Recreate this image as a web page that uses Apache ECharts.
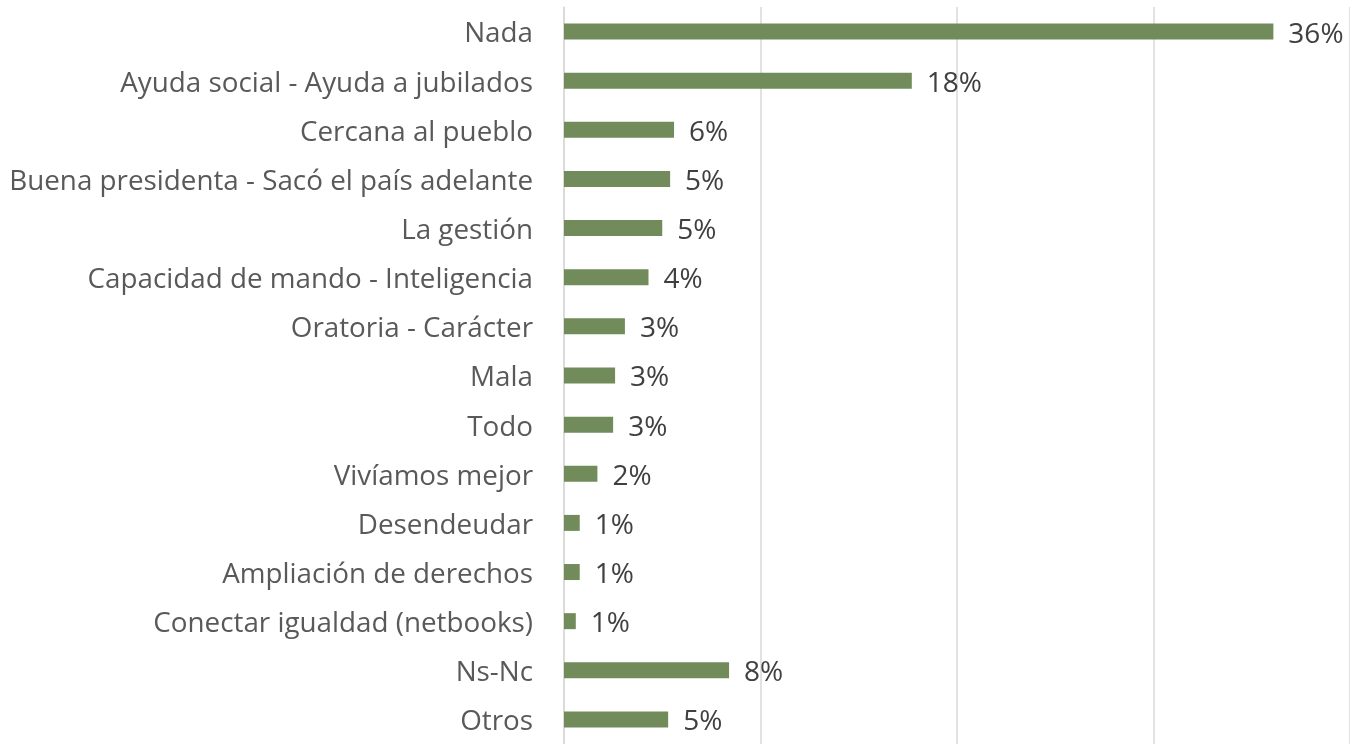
<!DOCTYPE html>
<html>
<head>
<meta charset="utf-8">
<script src="https://cdn.jsdelivr.net/npm/echarts@6/dist/echarts.min.js"></script>
<style>
html, body { margin: 0; padding: 0; background: #fff; }
#chart { width: 1350px; height: 744px; }
</style>
</head>
<body>
<div id="chart"></div>
<script>
var categories = ['Nada', 'Ayuda social - Ayuda a jubilados', 'Cercana al pueblo',
    'Buena presidenta - Sacó el país adelante', 'La gestión',
    'Capacidad de mando - Inteligencia', 'Oratoria - Carácter', 'Mala', 'Todo',
    'Vivíamos mejor', 'Desendeudar', 'Ampliación de derechos',
    'Conectar igualdad (netbooks)', 'Ns-Nc', 'Otros'];
var values = [36.1, 17.7, 5.6, 5.4, 5.0, 4.3, 3.1, 2.6, 2.5, 1.7, 0.8, 0.8, 0.6, 8.4, 5.3];
var labels = ['36%', '18%', '6%', '5%', '5%', '4%', '3%', '3%', '3%', '2%', '1%', '1%', '1%', '8%', '5%'];

var myChart = echarts.init(document.getElementById('chart'));
var option = {
    animation: false,
    grid: { left: 564, top: 7, width: 788, height: 745 },
    xAxis: {
        type: 'value',
        min: 0,
        max: 40,
        interval: 10,
        axisLabel: { show: false },
        axisLine: { show: false },
        axisTick: { show: false },
        splitLine: { lineStyle: { color: '#d9d9d9', width: 1.5 } }
    },
    yAxis: {
        type: 'category',
        inverse: true,
        data: categories,
        axisLine: { show: true, lineStyle: { color: '#d9d9d9', width: 1.5 } },
        axisTick: { show: false },
        axisLabel: {
            margin: 31,
            formatter: '{a|{value}}',
            rich: {
                a: {
                    color: '#595959',
                    fontFamily: 'Open Sans',
                    fontSize: 27.8,
                    padding: [6, 0, 0, 0]
                }
            }
        }
    },
    series: [{
        type: 'bar',
        data: values,
        barWidth: 16,
        itemStyle: { color: '#728b5b' },
        label: {
            show: true,
            position: 'right',
            distance: 15,
            offset: [0, 3],
            color: '#404040',
            fontFamily: 'Open Sans',
            fontSize: 28,
            formatter: function (p) { return labels[p.dataIndex]; }
        }
    }]
};
myChart.setOption(option);
</script>
</body>
</html>
